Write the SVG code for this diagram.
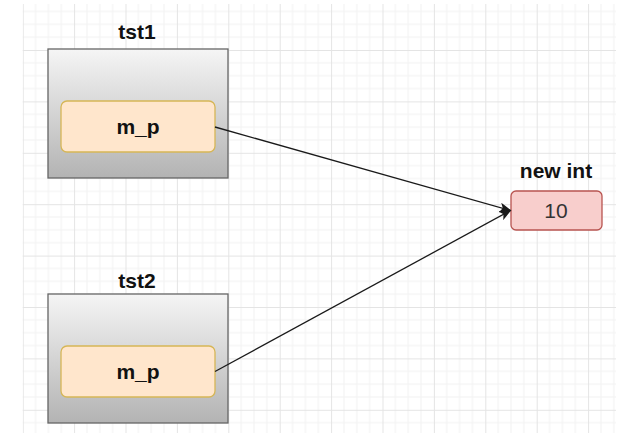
<svg xmlns="http://www.w3.org/2000/svg" width="639" height="440" viewBox="0 0 639 440">
  <style>
    .lbl { font-family: "Liberation Sans", Arial, sans-serif; font-size: 21px; font-weight: bold; fill: #111111; text-anchor: middle; }
    .val { font-family: "Liberation Sans", Arial, sans-serif; font-size: 21px; fill: #333333; text-anchor: middle; }
    .outer { fill: url(#gray); stroke: #666666; stroke-width: 1.3; }
    .field { fill: #ffe6cc; stroke: #d6b656; stroke-width: 1.3; }
    .heap { fill: #f8cecc; stroke: #b85450; stroke-width: 1.3; }
    .edge { fill: none; stroke: #1a1a1a; stroke-width: 1.3; }
  </style>
  <defs>
    <linearGradient id="gray" x1="0" y1="0" x2="0" y2="1">
      <stop offset="0" stop-color="#f5f5f5"/>
      <stop offset="1" stop-color="#b3b3b3"/>
    </linearGradient>
    <pattern id="grid" patternUnits="userSpaceOnUse" x="22.7" y="-1.4" width="51.4" height="51.4">
      <path d="M12.85 0V51.4M25.7 0V51.4M38.55 0V51.4M0 12.85H51.4M0 25.7H51.4M0 38.55H51.4" stroke="#f2f2f2" stroke-width="1" fill="none"/>
      <path d="M0.5 0V51.4M0 0.5H51.4" stroke="#e4e4e4" stroke-width="1" fill="none"/>
    </pattern>
    <marker id="arrow" viewBox="0 0 12 10" refX="11" refY="5" markerWidth="12" markerHeight="10" markerUnits="userSpaceOnUse" orient="auto">
      <path d="M0 0L12 5L0 10L3 5Z" fill="#1a1a1a"/>
    </marker>
  </defs>
  <rect width="639" height="440" fill="#ffffff"/>
  <rect x="22.7" y="4" width="593.3" height="429" fill="url(#grid)"/>

  <g id="tst1">
    <text class="lbl" x="137" y="39">tst1</text>
    <rect class="outer" x="48" y="49" width="180" height="129"/>
  </g>
  <g id="tst1_m_p">
    <rect class="field" x="61" y="101" width="154" height="51" rx="6"/>
    <text class="lbl" x="138" y="133.5">m_p</text>
  </g>

  <g id="tst2">
    <text class="lbl" x="137" y="288">tst2</text>
    <rect class="outer" x="48" y="294" width="180" height="129"/>
  </g>
  <g id="tst2_m_p">
    <rect class="field" x="61" y="346" width="154" height="51" rx="6"/>
    <text class="lbl" x="138" y="378.5">m_p</text>
  </g>

  <g id="new_int">
    <text class="lbl" x="556" y="178">new int</text>
    <rect class="heap" x="511" y="191" width="91" height="39" rx="5"/>
    <text class="val" x="556" y="218">10</text>
  </g>

  <g id="connectors">
    <line class="edge" x1="215" y1="127" x2="510.5" y2="210.5" marker-end="url(#arrow)"/>
    <line class="edge" x1="215" y1="371.5" x2="510.5" y2="210.5" marker-end="url(#arrow)"/>
  </g>
</svg>
